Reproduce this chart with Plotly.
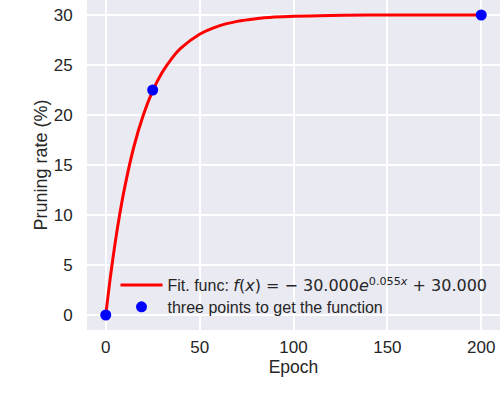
import plotly.graph_objects as go

# Fitted curve, values (epoch, pruning rate %)
curve_epoch = [0, 2.5, 5, 7.5, 10, 15, 20, 25, 30, 35, 40, 50, 60, 70, 80, 90, 100, 120, 140, 170, 200]
curve_rate = [0, 3.86, 7.21, 10.14, 12.69, 16.85, 20.01, 22.42, 24.24, 25.62, 26.68, 28.08, 28.89,
              29.36, 29.63, 29.79, 29.88, 29.96, 29.99, 30.0, 30.0]

# Three points used to get the function
point_epoch = [0, 25, 200]
point_rate = [0, 22.5, 30]

x_ticks = [0, 50, 100, 150, 200]
y_ticks = [0, 5, 10, 15, 20, 25, 30]

FONT = "Liberation Sans, Arial, sans-serif"
TXT = "#262626"

fit_label = ("Fit. func: <span style='font-family:DejaVu Sans'><i>f</i>(<i>x</i>) = \u2212 30.000"
             "<i>e</i><sup>0.055<i>x</i></sup> + 30.000</span>")

fig = go.Figure()
fig.add_trace(go.Scatter(x=curve_epoch, y=curve_rate, mode="lines",
                         line=dict(color="#ff0000", width=3, shape="spline"),
                         name=fit_label, legend="legend"))
fig.add_trace(go.Scatter(x=point_epoch, y=point_rate, mode="markers",
                         marker=dict(color="#0000ff", size=11),
                         name="three points to get the function", legend="legend2"))

leg_common = dict(xanchor="left", yanchor="middle", bgcolor="rgba(0,0,0,0)",
                  font=dict(size=16, color=TXT, family=FONT), itemwidth=42)

fig.update_layout(
    width=502, height=414,
    margin=dict(l=87, r=2, t=0, b=84),
    paper_bgcolor="white", plot_bgcolor="#EAEAF2",
    font=dict(family=FONT, color=TXT, size=17),
    showlegend=True,
    legend=dict(x=0.069, y=0.136, **leg_common),
    legend2=dict(x=0.069, y=0.07, **leg_common),
    xaxis=dict(range=[-10, 210], tickvals=x_ticks, showgrid=True, gridcolor="white",
               gridwidth=1.5, zeroline=False, showline=False, ticks="outside", ticklen=2,
               tickcolor="rgba(0,0,0,0)",
               title=dict(text="Epoch", standoff=3, font=dict(family=FONT, size=17.5, color=TXT)),
               tickfont=dict(size=17), automargin=False),
    yaxis=dict(range=[-1.5, 31.5], tickvals=y_ticks, showgrid=True, gridcolor="white",
               gridwidth=1.5, zeroline=False, showline=False, ticks="outside", ticklen=10,
               tickcolor="rgba(0,0,0,0)",
               title=dict(text="Pruning rate (%)", standoff=1, font=dict(family=FONT, size=18, color=TXT)),
               tickfont=dict(size=17), automargin=False),
)

fig.write_html("out.html", config={"displayModeBar": False},
               post_script="document.body.style.margin='0';")
